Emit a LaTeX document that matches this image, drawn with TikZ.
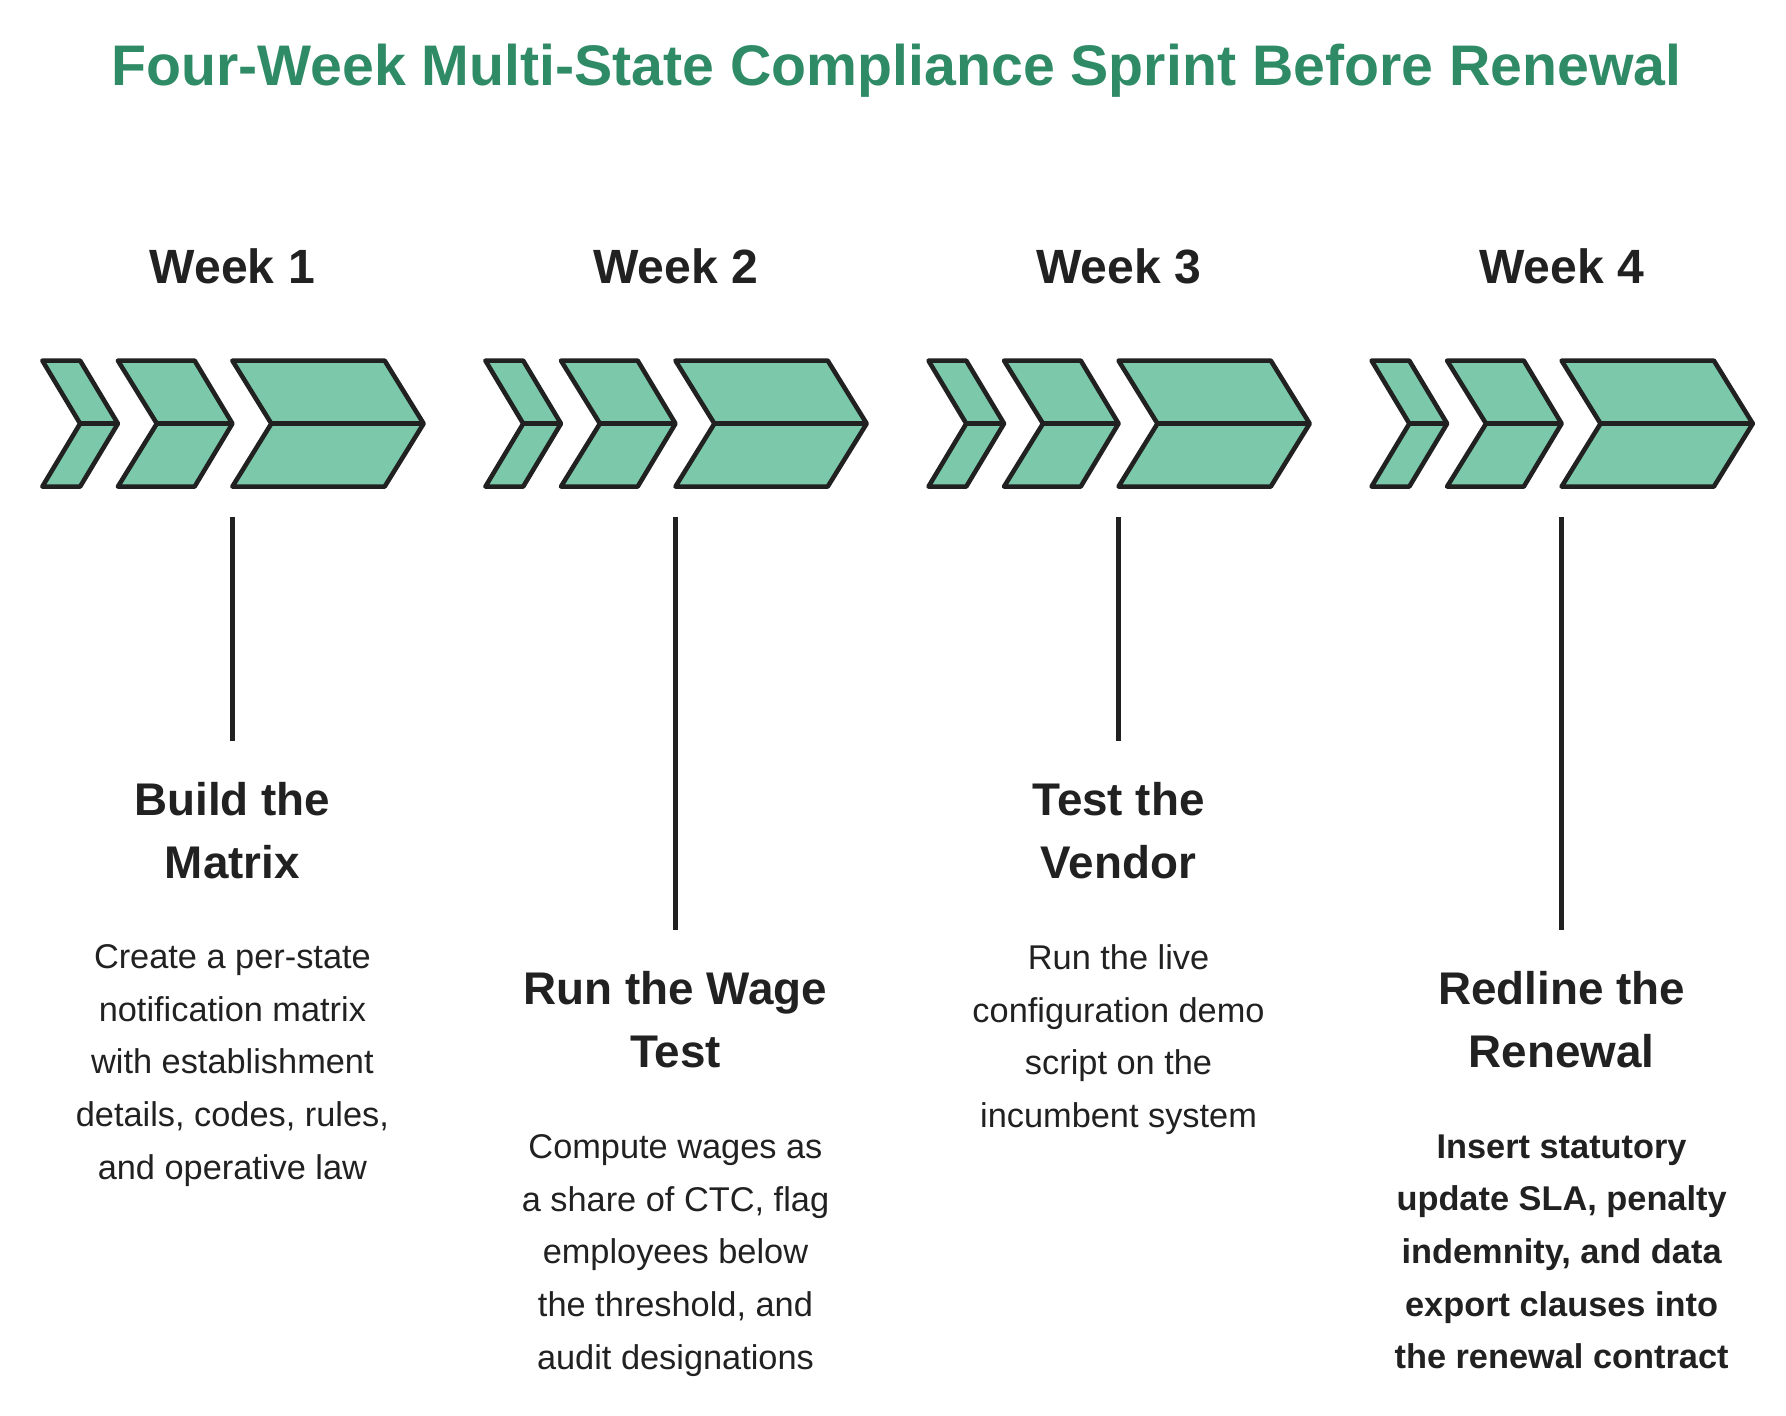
\documentclass[tikz,border=0pt]{standalone}
\usepackage{fontspec}
\setmainfont{Liberation Sans}
\definecolor{titlegreen}{RGB}{46,139,102}
\definecolor{chevfill}{RGB}{123,201,170}
\definecolor{ink}{RGB}{33,33,33}
\tikzset{
  chev/.style={draw=ink, fill=chevfill, line width=2pt, line join=round},
  week/.style={font=\fontsize{21}{25}\selectfont\bfseries, text=ink},
  head/.style={font=\fontsize{20}{27.5}\selectfont\bfseries, text=ink, align=center, anchor=north},
  body/.style={font=\fontsize{15}{23}\selectfont, text=ink, align=center, anchor=north},
  stem/.style={draw=ink, line width=2pt}
}
\begin{document}
\begin{tikzpicture}[x=0.5pt, y=-0.5pt]
\useasboundingbox (0,0) rectangle (1560,1236);
\node (title) at (783,62) {\fontsize{25}{30}\selectfont\bfseries\color{titlegreen}Four-Week Multi-State Compliance Sprint Before Renewal};

\foreach \i in {1,...,4} {
  \pgfmathsetmacro{\ox}{(\i-1)*387}
  \begin{scope}[xshift=\ox*0.5pt]
    \node[week] (week\i) at (203,233) {Week \i};
    % chevrons
    \draw[chev] (37,315) -- (70,315) -- (103,370) -- (70,425) -- (37,425) -- (70,370) -- cycle;
    \draw[chev] (70,370) -- (103,370);
    \draw[chev] (103,315) -- (170,315) -- (203,370) -- (170,425) -- (103,425) -- (137,370) -- cycle;
    \draw[chev] (137,370) -- (203,370);
    \draw[chev] (203,315) -- (336,315) -- (370,370) -- (336,425) -- (203,425) -- (237,370) -- cycle;
    \draw[chev] (237,370) -- (370,370);
    \coordinate (top\i) at (203,452);
  \end{scope}
}

\coordinate (bot1) at (203,647);
\coordinate (bot2) at (590,812);
\coordinate (bot3) at (977,647);
\coordinate (bot4) at (1364,812);
\foreach \i in {1,...,4} \draw[stem] (top\i) -- (bot\i);

\node[head] (head1) at (203,676) {Build the\\Matrix};
\node[body] (text1) at (203,818) {Create a per-state\\notification matrix\\with establishment\\details, codes, rules,\\and operative law};

\node[head] (head2) at (590,841) {Run the Wage\\Test};
\node[body] (text2) at (590,984) {Compute wages as\\a share of CTC, flag\\employees below\\the threshold, and\\audit designations};

\node[head] (head3) at (977,676) {Test the\\Vendor};
\node[body] (text3) at (977,818) {Run the live\\configuration demo\\script on the\\incumbent system};

\node[head] (head4) at (1364,841) {Redline the\\Renewal};
\node[body, font=\fontsize{15}{23}\selectfont\bfseries] (text4) at (1364,984) {Insert statutory\\update SLA, penalty\\indemnity, and data\\export clauses into\\the renewal contract};
\end{tikzpicture}
\end{document}
